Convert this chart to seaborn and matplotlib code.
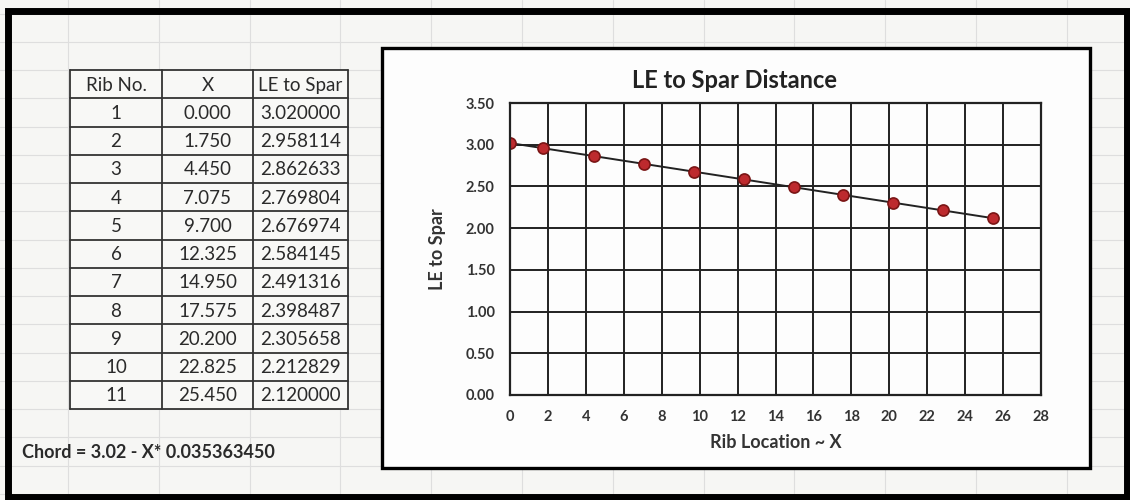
import numpy as np
import matplotlib.pyplot as plt
import matplotlib.patches as mpatches
import seaborn as sns

# Table / chart data
rib_no = [1, 2, 3, 4, 5, 6, 7, 8, 9, 10, 11]
x_loc = [0.000, 1.750, 4.450, 7.075, 9.700, 12.325, 14.950, 17.575, 20.200, 22.825, 25.450]
le_to_spar = [3.020000, 2.958114, 2.862633, 2.769804, 2.676974, 2.584145,
              2.491316, 2.398487, 2.305658, 2.212829, 2.120000]
headers = ["Rib No.", "X", "LE to Spar"]
chord_note = "Chord = 3.02 - X* 0.035363450"

sns.set_style("white")
plt.rcParams['font.family'] = ['Lato', 'DejaVu Sans']

W, H = 1130, 500
fig = plt.figure(figsize=(W / 100, H / 100), dpi=100)
fig.patch.set_facecolor('#f6f6f4')

# layout layer in pixel coordinates (y down)
bg = fig.add_axes([0, 0, 1, 1])
bg.set_xlim(0, W)
bg.set_ylim(H, 0)
bg.axis('off')

# faint spreadsheet gridlines
for gx in np.arange(68 - 90.8, W, 90.8):
    bg.plot([gx, gx], [0, H], color='#dedede', lw=0.8, zorder=0)
for gy in np.arange(70 - 2 * 28.25, H, 28.25):
    bg.plot([0, W], [gy, gy], color='#dedede', lw=0.8, zorder=0)

# outer black frame of the screenshot
bg.add_patch(mpatches.Rectangle((8, 11), 1119, 486, fill=False, ec='black', lw=5, zorder=5))

# chart box
bg.add_patch(mpatches.Rectangle((382, 48), 708, 420, fc='#fdfdfd', ec='black', lw=2.4, zorder=2))

# the table
col_edges = [70, 162, 253, 348]
row_h = 28.25
top = 70
n_rows = len(rib_no) + 1
bg.add_patch(mpatches.Rectangle((col_edges[0], top), col_edges[-1] - col_edges[0], n_rows * row_h,
                                fc='#f8f8f6', ec='none', zorder=1))
for cx in col_edges:
    bg.plot([cx, cx], [top, top + n_rows * row_h], color='#333333', lw=1.3, zorder=3)
for r in range(n_rows + 1):
    yy = top + r * row_h
    bg.plot([col_edges[0], col_edges[-1]], [yy, yy], color='#333333', lw=1.3, zorder=3)

cell_rows = [headers] + [[str(n), f"{xv:.3f}", f"{lv:.6f}"] for n, xv, lv in zip(rib_no, x_loc, le_to_spar)]
for r, row in enumerate(cell_rows):
    yc = top + (r + 0.5) * row_h + 1
    for c, txt in enumerate(row):
        xc = (col_edges[c] + col_edges[c + 1]) / 2
        bg.text(xc, yc, txt, ha='center', va='center', fontsize=13.5, color='#2a2a2a', zorder=4)

bg.text(22, 452, chord_note, ha='left', va='center', fontsize=13, fontweight='bold',
        color='#2a2a2a', zorder=4)

# the chart
ax = fig.add_axes([510 / W, 1 - 395 / H, (1041 - 510) / W, (395 - 103) / H])
ax.set_zorder(3)
ax.patch.set_alpha(0)
sns.lineplot(x=x_loc, y=le_to_spar, ax=ax, color='#222222', lw=1.4, marker='o',
             markersize=8, markerfacecolor='#bd2a2e', markeredgecolor='#7a1515',
             markeredgewidth=1.2, sort=False)
ax.set_xlim(0, 28)
ax.set_ylim(0, 3.5)
ax.set_xticks(np.arange(0, 29, 2))
ax.set_yticks(np.arange(0, 3.51, 0.5))
ax.set_yticklabels([f"{v:.2f}" for v in np.arange(0, 3.51, 0.5)])
ax.grid(True, color='#222222', lw=1.4)
ax.set_axisbelow(True)
for s in ax.spines.values():
    s.set_color('#222222')
    s.set_linewidth(1.6)
ax.tick_params(axis='both', length=0, labelsize=10.5, colors='#333333')
ax.tick_params(axis='y', pad=11)
ax.tick_params(axis='x', pad=11)
for lab in ax.get_xticklabels() + ax.get_yticklabels():
    lab.set_fontweight('bold')
ax.set_xlabel("Rib Location ~ X", fontsize=13, fontweight='bold', color='#333333', labelpad=7)
ax.set_ylabel("LE to Spar", fontsize=13, fontweight='bold', color='#333333', labelpad=14)
fig.text(735 / W, 1 - 80 / H, "LE to Spar Distance", ha='center', va='center',
         fontsize=17, fontweight='bold', color='#222222')

fig.savefig("out.png", dpi=100, facecolor=fig.get_facecolor())
